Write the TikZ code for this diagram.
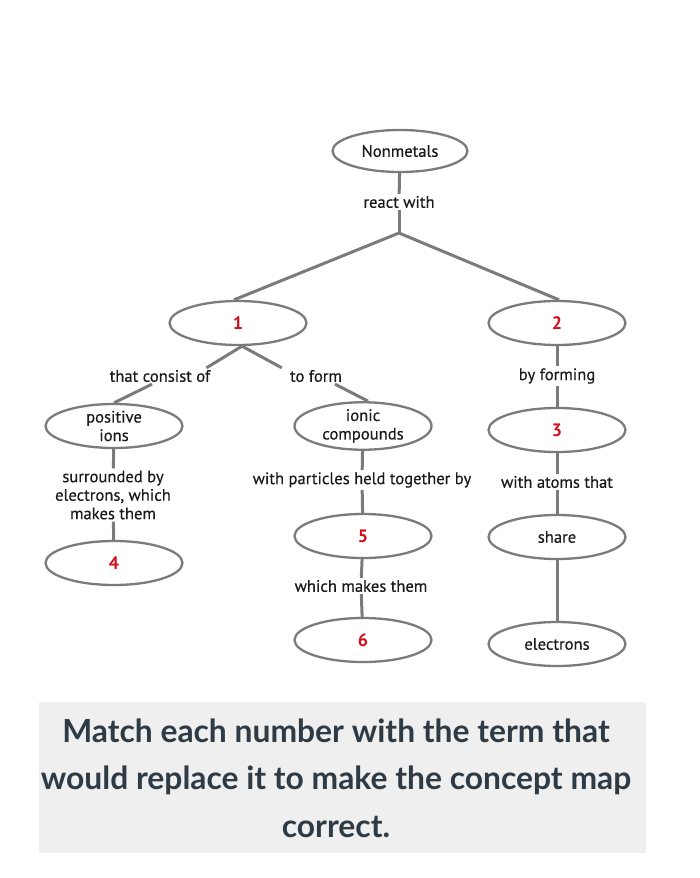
\documentclass[tikz,border=0pt]{standalone}
\usepackage{fontspec}
\setmainfont{PT Sans}[FakeBold=0.35]
\newfontfamily\numfont{PT Sans}[BoldFont={PT Sans Bold}]
\newfontfamily\latofont{Lato}
\usetikzlibrary{shapes.geometric}
\definecolor{linegray}{HTML}{7B7B7B}
\definecolor{numred}{HTML}{D0101B}
\definecolor{txtdark}{HTML}{1A1A1A}
\definecolor{boxgray}{HTML}{EFEFEF}
\definecolor{qtext}{HTML}{2E3B45}
\newcommand{\mapfont}{\fontsize{16.6}{18.5}\selectfont}
\newcommand{\numtext}[1]{\textcolor{numred}{\numfont\bfseries\fontsize{18}{20}\selectfont #1}}
\tikzset{
  concept/.style={draw=linegray, line width=2.3pt, ellipse, minimum width=137pt,
    minimum height=44pt, inner sep=0pt, align=center, font=\mapfont, text=txtdark},
  linklabel/.style={font=\mapfont, align=center, inner sep=2pt, text=txtdark},
  conn/.style={draw=linegray, line width=3pt}
}
\begin{document}
\begin{tikzpicture}[x=1pt,y=-1pt]
\useasboundingbox (0,0) rectangle (699,878);
\fill[white] (0,0) rectangle (699,878);

% concepts
\node[concept, minimum width=135pt, minimum height=42pt] (nonmetals) at (400,151) {Nonmetals};
\node[concept] (one) at (238,323) {\numtext{1}};
\node[concept] (two) at (557,323) {\numtext{2}};
\node[concept] (pions) at (114,426) {positive\\ions};
\node[concept] (ionic) at (363,426) {ionic\\compounds};
\node[concept] (three) at (557,430) {\numtext{3}};
\node[concept] (four) at (114,563) {\numtext{4}};
\node[concept] (five) at (363,536) {\numtext{5}};
\node[concept] (share) at (557,537) {share};
\node[concept] (six) at (363,640) {\numtext{6}};
\node[concept] (electrons) at (557,644) {electrons};

% link labels
\node[linklabel] (react) at (399,202) {react with};
\node[linklabel] (consist) at (160,376) {that consist of};
\node[linklabel] (toform) at (316,376) {to form};
\node[linklabel] (byforming) at (557,376) {by forming};
\node[linklabel] (surrounded) at (113,495) {surrounded by\\electrons, which\\makes them};
\node[linklabel] (particles) at (362,480) {with particles held together by};
\node[linklabel] (atoms) at (557,482) {with atoms that};
\node[linklabel] (makes) at (361,586) {which makes them};

% connectors
\coordinate (j1) at (399,233);
\draw[conn] (nonmetals) -- (react);
\draw[conn] (react) -- (j1);
\draw[conn] (j1) -- ([xshift=-4pt]one.north);
\draw[conn] (j1) -- ([xshift=2pt]two.north);

\draw[conn] ([xshift=4pt]one.south) -- ([xshift=-6pt]consist.north east);
\draw[conn] ([xshift=4pt]one.south) -- ([xshift=-6pt]toform.north west);
\draw[conn] ([xshift=-8pt]consist.south) -- (pions.north);
\draw[conn] ([xshift=19pt]toform.south) -- ([xshift=5pt]ionic.north);

\draw[conn] (two) -- (byforming);
\draw[conn] (byforming) -- (three);
\draw[conn] (three) -- (atoms);
\draw[conn] (atoms) -- (share);
\draw[conn] (share) -- (electrons);

\draw[conn] (pions) -- (surrounded);
\draw[conn] (surrounded) -- (four);

\draw[conn] (ionic) -- (particles);
\draw[conn] (particles) -- (five);
\draw[conn] (five) -- (makes);
\draw[conn] (makes) -- (six);

% question box
\node[fill=boxgray, minimum width=607pt, minimum height=151pt, inner sep=0pt] (qbox) at (342.5,777.5) {};
\node[text=qtext, font=\latofont\bfseries\fontsize{31.8}{47.5}\selectfont, align=center, inner sep=0pt] (qtext) at (336,778)
  {Match each number with the term that\\would replace it to make the concept map\\correct.};
\end{tikzpicture}
\end{document}
